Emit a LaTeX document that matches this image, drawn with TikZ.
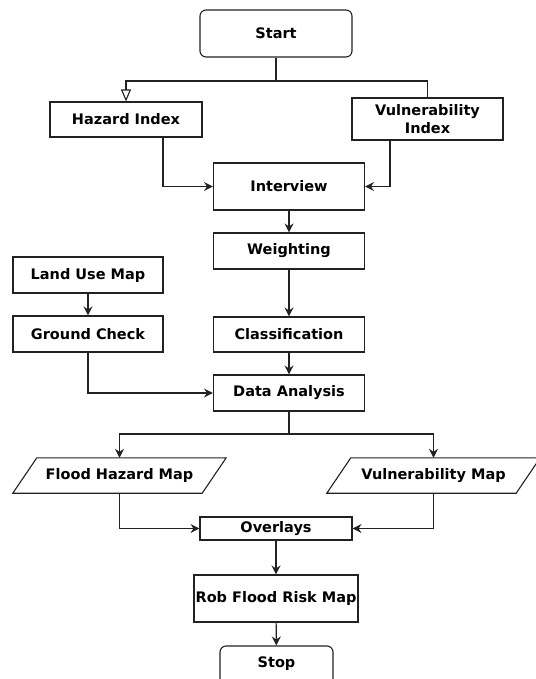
\documentclass[tikz,border=0pt]{standalone}
\usepackage{fontspec}
\setmainfont{DejaVu Sans}
\usetikzlibrary{arrows.meta}
\definecolor{ln}{HTML}{222222}
\begin{document}
\begin{tikzpicture}[x=1pt,y=-1pt,
  box/.style={draw=ln, line width=1.1pt, inner sep=0pt, align=center,
    font=\fontsize{14.5}{18}\selectfont\bfseries},
  term/.style={box, rounded corners=6pt},
  para/.style={inner sep=0pt, align=center, font=\fontsize{14.5}{18}\selectfont\bfseries,
    minimum width=189pt, minimum height=35pt},
  conn/.style={draw=ln, line width=1.1pt},
  arr/.style={conn, -{Stealth[length=9pt,width=9pt,inset=3pt]}},
  openarr/.style={conn, -{Triangle[open,length=12pt,width=10pt]}}
]
\useasboundingbox (0,0) rectangle (535,679);

\node[term, minimum width=152pt, minimum height=47pt] (start) at (276,33.5) {Start};
\node[box, minimum width=152pt, minimum height=35pt] (haz) at (126,119.5) {Hazard Index};
\node[box, minimum width=151pt, minimum height=42pt] (vul) at (427.5,119) {Vulnerability\\Index};
\node[box, minimum width=151pt, minimum height=47pt] (int) at (289,186.5) {Interview};
\node[box, minimum width=151pt, minimum height=36pt] (wei) at (289,251) {Weighting};
\node[box, minimum width=151pt, minimum height=35pt] (cla) at (289,334.5) {Classification};
\node[box, minimum width=151pt, minimum height=36pt] (dat) at (289,393) {Data Analysis};
\node[box, minimum width=150pt, minimum height=36pt] (lum) at (88,275) {Land Use Map};
\node[box, minimum width=150pt, minimum height=36pt] (gch) at (88,334) {Ground Check};
\node[para] (fhm) at (119.5,475.5) {Flood Hazard Map};
\node[para] (vum) at (433.5,475.5) {Vulnerability Map};
\node[box, minimum width=152pt, minimum height=23pt] (ovl) at (276,528.5) {Overlays};
\node[box, minimum width=164pt, minimum height=47pt] (rob) at (276,598.5) {Rob Flood Risk Map};
\node[term, minimum width=113pt, minimum height=40pt, text depth=0pt] (stop) at (276.5,666) {};
\node[inner sep=0pt, font=\fontsize{14.5}{18}\selectfont\bfseries] (stoptxt) at (276.5,663.5) {Stop};

\draw[conn] ([xshift=-12pt]fhm.south west) -- ([xshift=-12pt]fhm.south east)
  -- ([xshift=12pt]fhm.north east) -- ([xshift=12pt]fhm.north west) -- cycle;
\draw[conn] ([xshift=-12pt]vum.south west) -- ([xshift=-12pt]vum.south east)
  -- ([xshift=12pt]vum.north east) -- ([xshift=12pt]vum.north west) -- cycle;

\coordinate (j1) at (276,81);
\coordinate (j2) at (289,434);

\draw[conn] (start.south) -- (j1);
\draw[openarr] (j1) -| (haz.north);
\draw[conn] (j1) -| (vul.north);
\draw[arr] ([xshift=37pt]haz.south) |- (int.west);
\draw[arr] ([xshift=-37.5pt]vul.south) |- (int.east);
\draw[arr] (int) -- (wei);
\draw[arr] (wei) -- (cla);
\draw[arr] (cla) -- (dat);
\draw[arr] (lum) -- (gch);
\draw[arr] (gch.south) |- (dat.west);
\draw[conn] (dat.south) -- (j2);
\draw[arr] (j2) -| (fhm.north);
\draw[arr] (j2) -| (vum.north);
\draw[arr] (fhm.south) |- (ovl.west);
\draw[arr] (vum.south) |- (ovl.east);
\draw[arr] (ovl) -- (rob);
\draw[arr] (rob) -- (stop);
\end{tikzpicture}
\end{document}
